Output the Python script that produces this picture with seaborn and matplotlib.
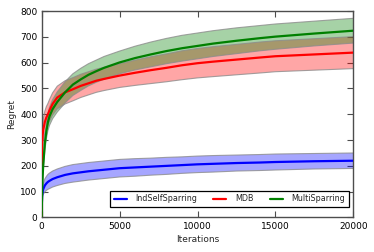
import numpy as np
import pandas as pd
import matplotlib
matplotlib.use("Agg")
import matplotlib.pyplot as plt
import seaborn as sns

# ---- data ----
iters = [0, 10, 30, 60, 100, 200, 300, 400, 500, 700, 1000, 1500, 2000,
         2500, 3000, 3500, 4000, 5000, 6000, 7000, 8000, 9000, 10000,
         11000, 12500, 14000, 15000, 17500, 20000]

ind_mean = [0, 55, 85, 100, 110, 124, 132, 138, 142, 149, 156, 165, 171,
            175, 179, 182, 185, 191, 194, 197, 200, 203, 206,
            208, 211, 213, 215, 218, 220]
ind_half = [0, 6, 12, 16, 20, 25, 27, 29, 30, 31, 32, 33, 34,
            34, 34, 34, 34, 34, 34, 33, 33, 32, 32,
            32, 31, 31, 31, 30, 30]

mdb_mean = [0, 240, 290, 320, 340, 370, 388, 400, 415, 440, 465, 485, 497,
            510, 520, 530, 537, 550, 561, 571, 580, 590, 598,
            604, 612, 620, 625, 632, 639]
mdb_half = [0, 35, 40, 42, 42, 42, 42, 42, 42, 43, 44, 45, 45,
            45, 45, 45, 45, 46, 49, 52, 54, 56, 57,
            58, 59, 60, 60, 61, 62]

ms_mean = [0, 50, 110, 160, 205, 285, 335, 370, 392, 420, 448, 485, 515,
           535, 553, 567, 580, 601, 618, 632, 645, 656, 665,
           674, 685, 695, 701, 713, 724]
ms_half = [0, 5, 12, 16, 20, 26, 30, 33, 35, 37, 39, 41, 42,
           43, 43, 43, 44, 44, 46, 48, 49, 50, 50,
           50, 50, 49, 49, 48, 48]

names = ["IndSelfSparring", "MDB", "MultiSparring"]
colors = ["#0000ff", "#ff0000", "#008000"]

# ---- figure ----
sns.set_style("ticks")
plt.rcParams["font.family"] = ["DejaVu Sans"]
fig = plt.figure(figsize=(3.74, 2.52), dpi=100)
ax = fig.add_axes([0.1115, 0.137, 0.8332, 0.819])

means = [ind_mean, mdb_mean, ms_mean]
halves = [ind_half, mdb_half, ms_half]
rows = []
for n, m in zip(names, means):
    for x, y in zip(iters, m):
        rows.append({"Iterations": x, "Regret": y, "series": n})
df = pd.DataFrame(rows)

for n, c, m, h in zip(names, colors, means, halves):
    m = np.array(m, float)
    h = np.array(h, float)
    ax.fill_between(iters, m - h, m + h, facecolor=c, alpha=0.35,
                    edgecolor="none", zorder=1)
    ax.plot(iters, m - h, color="0.55", lw=0.8, alpha=0.8, zorder=1.5)
    ax.plot(iters, m + h, color="0.55", lw=0.8, alpha=0.8, zorder=1.5)

sns.lineplot(data=df, x="Iterations", y="Regret", hue="series",
             palette=dict(zip(names, colors)), linewidth=1.6, ax=ax,
             zorder=3, legend=True)

ax.set_xlim(0, 20000)
ax.set_ylim(0, 800)
ax.set_xticks([0, 5000, 10000, 15000, 20000])
ax.set_yticks(range(0, 801, 100))
ax.tick_params(direction="in", length=4, width=0.8, labelsize=6.5,
               top=True, right=True, pad=3, colors="0.3", labelcolor="black")
for s in ax.spines.values():
    s.set_color("0.3")
    s.set_linewidth(1.0)
ax.set_xlabel("Iterations", fontsize=6.5, labelpad=3)
ax.set_ylabel("Regret", fontsize=6.5, labelpad=3)

leg = ax.legend(loc="lower right", bbox_to_anchor=(0.986, 0.051), ncol=3,
                fontsize=5.8, frameon=True, fancybox=False,
                handlelength=1.6, columnspacing=2.0, borderaxespad=0.0,
                borderpad=0.45, handletextpad=1.1)
leg.get_frame().set_edgecolor("black")
leg.get_frame().set_linewidth(0.9)
leg.get_frame().set_alpha(1)
for line in leg.get_lines():
    line.set_linewidth(1.6)

fig.savefig("out.png", dpi=100)
